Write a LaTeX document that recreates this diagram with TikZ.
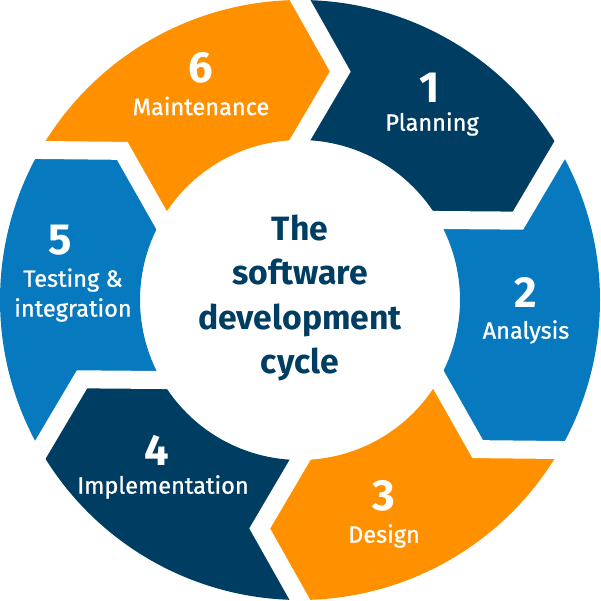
\documentclass[tikz,border=0pt]{standalone}
\usepackage{fontspec}
\setmainfont{Fira Sans}
\newfontfamily\labfont[FakeBold=0.9]{Fira Sans}
\usetikzlibrary{calc}
\definecolor{navy}{HTML}{003D62}
\definecolor{midblue}{HTML}{0779BE}
\definecolor{amber}{HTML}{FF9100}
\tikzset{
	gapline/.style={draw=white, line width=0.18cm, line join=miter, miter limit=10},
	num/.style={text=white, font=\bfseries\fontsize{12.4}{14}\selectfont},
	lab/.style={text=white, font=\labfont\fontsize{6.7}{8.5}\selectfont, align=center},
}

\begin{document}
\begin{tikzpicture}
		\useasboundingbox (-3,-3.01) rectangle (3.01,3);
		
		% ring pieces
		\foreach \a/\c in {90/navy,30/midblue,-30/amber,-90/navy,-150/midblue,150/amber}{
			\fill [\c] (\a:3) arc[start angle=\a, end angle=\a-60, radius=3] -- (\a-70:2.32) -- (\a-60:1.6)
				arc[start angle=\a-60, end angle=\a, radius=1.6] -- (\a-10:2.32) -- cycle;
		}
		
		% white gaps
		\foreach \a in {90,30,...,-210}{
			\draw [gapline] ($(\a-10:2.32)!1.2!(\a:3)$) -- (\a-10:2.32) -- ($(\a-10:2.32)!1.2!(\a:1.6)$);
		}
		
		\node [num] (n1) at (1.30, 2.12) {1};
		\node [lab] (l1) at (1.32, 1.76) {Planning};
		\node [num] (n2) at (2.26, 0.08) {2};
		\node [lab] (l2) at (2.26, -0.32) {Analysis};
		\node [num] (n3) at (0.84, -1.96) {3};
		\node [lab] (l3) at (0.84, -2.36) {Design};
		\node [num] (n4) at (-1.43, -1.50) {4};
		\node [lab] (l4) at (-1.37, -1.87) {Implementation};
		\node [num] (n5) at (-2.40, 0.60) {5};
		\node [lab] (l5) at (-2.27, 0.05) {Testing \&\\integration};
		\node [num] (n6) at (-0.99, 2.32) {6};
		\node [lab] (l6) at (-0.99, 1.94) {Maintenance};
		
		\node [text=navy, font=\bfseries\fontsize{9.6}{12.7}\selectfont, align=center] (title) at (0, 0.02)
			{The\\software\\development\\cycle};
	\end{tikzpicture}
\end{document}
